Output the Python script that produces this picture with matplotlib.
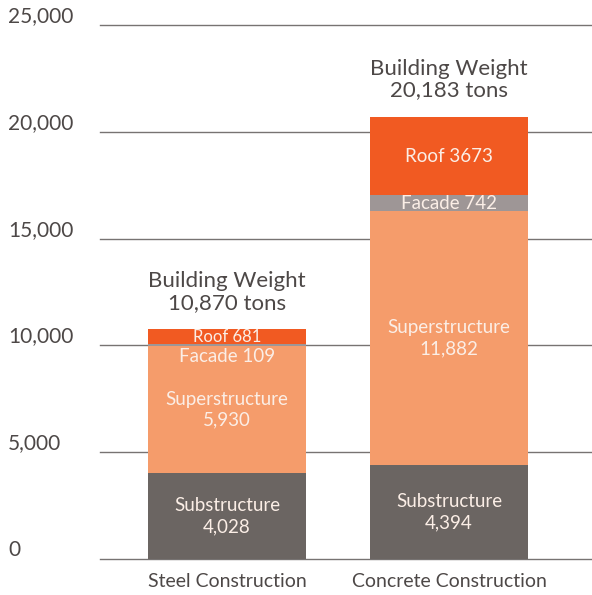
import matplotlib.pyplot as plt
from matplotlib import transforms

plt.rcParams['font.family'] = ['Lato', 'DejaVu Sans']

# Данные
categories = ['Steel Construction', 'Concrete Construction']
segments = ['Substructure', 'Superstructure', 'Facade', 'Roof']
substructure = [4028, 4394]
superstructure = [5930, 11882]
facade = [109, 742]
roof = [681, 3673]
totals = [10870, 20183]
y_ticks = [0, 5000, 10000, 15000, 20000, 25000]

colors = ['#6b6562', '#f59c6b', '#9e9696', '#f15a22']
text_color = '#fbeee6'
label_color = '#4d4847'

fig = plt.figure(figsize=(5.92, 5.95), dpi=100)
ax = fig.add_axes([100 / 592, 36 / 595, 492 / 592, 534 / 595])

x = [0, 1]
width = 0.712
series = [substructure, superstructure, facade, roof]

# Линии сетки
for t in y_ticks:
    ax.axhline(t, color='#777372', lw=1.0, zorder=0, clip_on=False)

fs_bar = 13.5
bottoms = [0, 0]
for name, vals, col in zip(segments, series, colors):
    ax.bar(x, vals, width, bottom=bottoms, color=col, zorder=2)
    for i in x:
        mid = bottoms[i] + vals[i] / 2
        if name in ('Substructure', 'Superstructure'):
            ax.text(i, mid, f'{name}\n{vals[i]:,}', ha='center', va='center',
                    color=text_color, fontsize=fs_bar, linespacing=1.3,
                    zorder=3)
        elif name == 'Facade' and vals[i] < 300:
            # слишком тонкий сегмент - подпись ниже
            ax.text(i, bottoms[i] - 80, f'{name} {vals[i]}', ha='center',
                    va='top', color=text_color, fontsize=fs_bar, zorder=3)
        elif name == 'Facade':
            ax.text(i, mid, f'{name} {vals[i]}', ha='center', va='center',
                    color=text_color, fontsize=fs_bar, zorder=3)
        else:
            fs = fs_bar if vals[i] > 1000 else 12
            ax.text(i, mid, f'{name} {vals[i]}', ha='center', va='center',
                    color=text_color, fontsize=fs, zorder=3)
    bottoms = [b + v for b, v in zip(bottoms, vals)]

# Общий вес над столбцами
for i in x:
    ax.annotate(f'Building Weight\n{totals[i]:,} tons', (i, bottoms[i]),
                xytext=(0, 12), textcoords='offset points', ha='center',
                va='bottom', fontsize=16, color=label_color,
                linespacing=1.1)

# Подписи оси Y
trans = transforms.blended_transform_factory(fig.transFigure, ax.transData)
for t in y_ticks:
    ax.text(8 / 592, t + 140, f'{t:,}', transform=trans, ha='left',
            va='baseline', fontsize=15, color=label_color)

ax.set_xlim(-0.572, 1.644)
ax.set_ylim(0, 25000)
ax.set_xticks(x)
ax.set_xticklabels(categories, fontsize=14, color=label_color)
ax.tick_params(axis='x', length=0, pad=10)
ax.set_yticks([])
for s in ax.spines.values():
    s.set_visible(False)

fig.savefig('out.png', dpi=100)
